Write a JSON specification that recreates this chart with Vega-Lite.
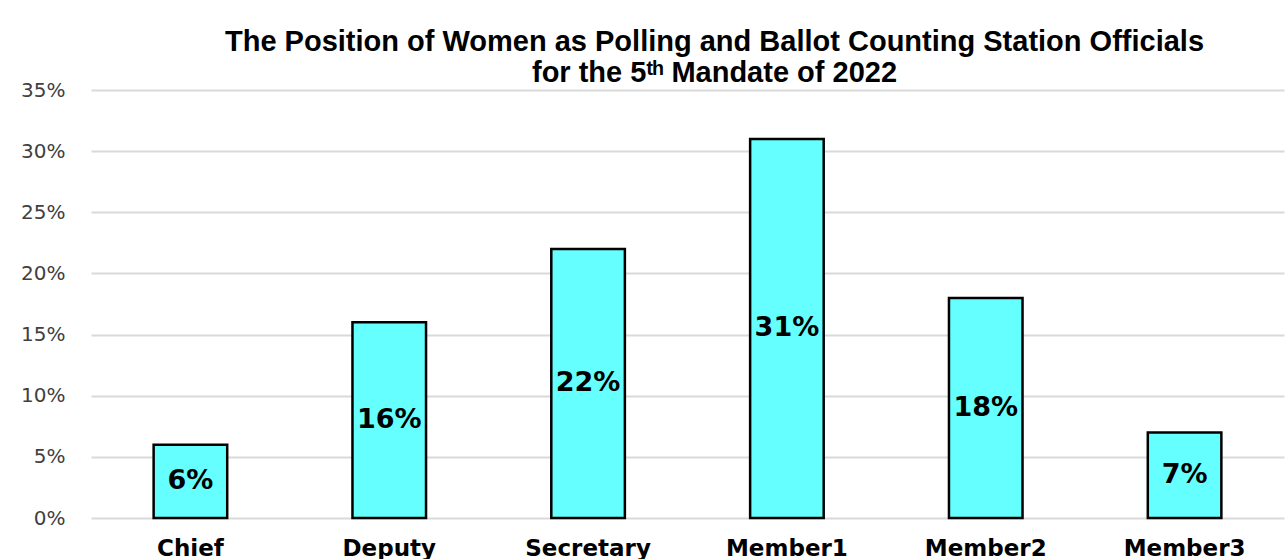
{
  "$schema": "https://vega.github.io/schema/vega-lite/v6.json",
  "width": 1193,
  "height": 428,
  "autosize": {"type": "none"},
  "padding": {"left": 91, "top": 90, "right": 4, "bottom": 41},
  "background": "white",
  "title": {
    "text": ["The Position of Women as Polling and Ballot Counting Station Officials", "for the 5ᵗʰ Mandate of 2022"],
    "font": "Liberation Sans",
    "fontSize": 29,
    "fontWeight": "bold",
    "color": "#000000",
    "lineHeight": 31,
    "anchor": "middle",
    "dx": 27,
    "offset": -8
  },
  "data": {
    "values": [
      {"position": "Chief", "share": 0.06},
      {"position": "Deputy", "share": 0.16},
      {"position": "Secretary", "share": 0.22},
      {"position": "Member1", "share": 0.31},
      {"position": "Member2", "share": 0.18},
      {"position": "Member3", "share": 0.07}
    ]
  },
  "encoding": {
    "x": {
      "field": "position",
      "type": "nominal",
      "sort": null,
      "scale": {"paddingInner": 0.63, "paddingOuter": 0.315},
      "axis": {
        "title": null,
        "labelAngle": 0,
        "labelFont": "DejaVu Sans",
        "labelFontSize": 23,
        "labelFontWeight": "bold",
        "labelColor": "#000000",
        "labelPadding": 19,
        "domain": false,
        "ticks": false,
        "grid": false
      }
    }
  },
  "layer": [
    {
      "mark": {"type": "bar", "color": "#66FFFF", "stroke": "#000000", "strokeWidth": 2.5},
      "encoding": {
        "y": {
          "field": "share",
          "type": "quantitative",
          "scale": {"domain": [0, 0.35], "nice": false},
          "axis": {
            "title": null,
            "format": ".0%",
            "values": [0, 0.05, 0.1, 0.15, 0.2, 0.25, 0.3, 0.35],
            "labelFont": "DejaVu Sans",
            "labelFontSize": 20,
            "labelColor": "#404040",
            "labelPadding": 26,
            "domain": false,
            "ticks": false,
            "grid": true,
            "gridColor": "#d9d9d9",
            "gridWidth": 2
          }
        }
      }
    },
    {
      "transform": [{"calculate": "datum.share / 2", "as": "mid"}],
      "mark": {"type": "text", "font": "DejaVu Sans", "fontSize": 27, "fontWeight": "bold", "color": "#000000", "baseline": "middle"},
      "encoding": {
        "y": {"field": "mid", "type": "quantitative"},
        "text": {"field": "share", "type": "quantitative", "format": ".0%"}
      }
    }
  ],
  "config": {"view": {"stroke": null}}
}
